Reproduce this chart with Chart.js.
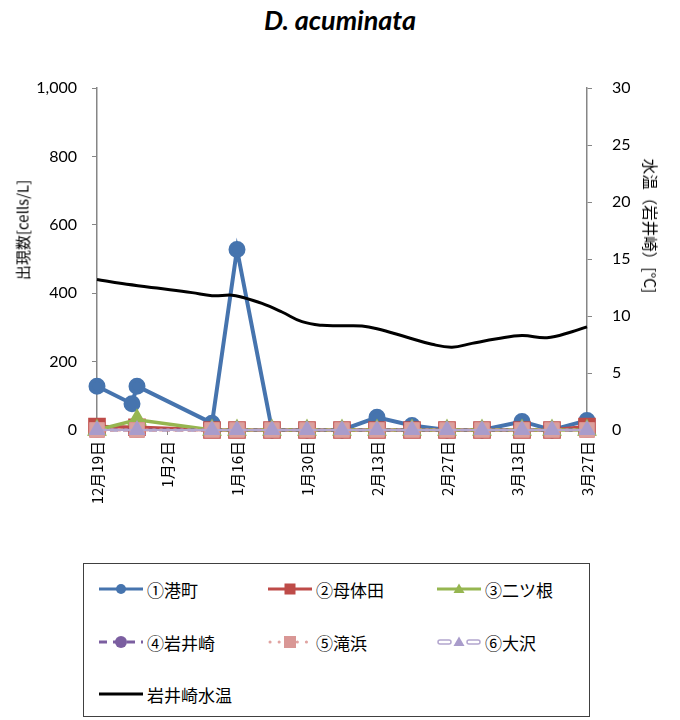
<!DOCTYPE html>
<html>
<head>
<meta charset="utf-8">
<script src="https://cdn.jsdelivr.net/npm/chart.js@4.4.1/dist/chart.umd.min.js"></script>
<style>
  body { margin: 0; background: #fff; }
  #wrap { position: relative; width: 680px; height: 720px; font-family: Lato, "Noto Sans CJK JP", sans-serif; color: #000; }
  #chartBox { position: absolute; left: 0; top: 0; width: 680px; height: 560px; }
  .title { position: absolute; left: 0; top: 3px; width: 680px; text-align: center; font: italic bold 27px Lato, sans-serif; }
  .axisTitle { position: absolute; white-space: nowrap; font-size: 15px; font-family: "Noto Sans CJK JP", sans-serif; }
  #legend { position: absolute; left: 83px; top: 563px; width: 505px; height: 152px; border: 1px solid #404040; }
  .item { position: absolute; height: 24px; display: flex; align-items: center; font-size: 17px; font-family: "Noto Sans CJK JP", sans-serif; white-space: nowrap; }
  .item span { margin-left: 4px; }
</style>
</head>
<body>
<div id="wrap">
  <div class="title">D. acuminata</div>
  <div id="chartBox"><canvas id="doChart" width="680" height="560"></canvas></div>
  <div class="axisTitle" style="left:22px;top:230px;transform:translate(-50%,-50%) rotate(-90deg);">出現数[cells/L]</div>
  <div class="axisTitle" style="left:651px;top:226px;font-size:15.5px;transform:translate(-50%,-50%) rotate(90deg);">水温（岩井崎）[°C]</div>
  <div id="legend"></div>
</div>
<script>
// x is days since 12/19
const tickLabels = ["12月19日", "1月2日", "1月16日", "1月30日", "2月13日", "2月27日", "3月13日", "3月27日"];

const minatoDays = [0, 7, 8, 23, 28, 35, 42, 49, 56, 63, 70, 77, 85, 91, 98];
const minato = [128, 77, 128, 20, 528, 0, 0, 0, 37, 13, 0, 0, 25, 0, 28];

const stationDays = [0, 8, 23, 28, 35, 42, 49, 56, 63, 70, 77, 85, 91, 98];
const botaida = [10, 8, 0, 0, 0, 0, 0, 0, 0, 0, 0, 0, 0, 10];
const futatsune = [0, 30, 0, 0, 0, 0, 0, 0, 0, 0, 0, 0, 0, 0];
const iwaisaki = [0, 0, 0, 0, 0, 0, 0, 0, 0, 0, 0, 0, 0, 0];
const takihama = [0, 0, 0, 0, 0, 0, 0, 0, 0, 0, 0, 0, 0, 0];
const osawa = [0, 0, 0, 0, 0, 0, 0, 0, 0, 0, 0, 0, 0, 0];

const tempDays = [0, 5, 12, 19, 23, 27, 29, 33, 37, 41, 45, 49, 53, 56, 62, 67, 71, 75, 80, 85, 90, 95, 98];
const tempValues = [13.2, 12.85, 12.45, 12.05, 11.78, 11.83, 11.65, 11.1, 10.35, 9.5, 9.18, 9.14, 9.12, 8.88, 8.14, 7.52, 7.26, 7.6, 8.0, 8.29, 8.09, 8.62, 9.05];

const toPoints = (days, vals) => days.map((d, i) => ({ x: d, y: vals[i] }));

const axisGray = "#868686";
const fontFam = "Lato, 'Noto Sans CJK JP', sans-serif";

new Chart(document.getElementById("doChart"), {
  type: "line",
  data: {
    datasets: [
      {
        label: "岩井崎水温", data: toPoints(tempDays, tempValues), yAxisID: "y2",
        borderColor: "#000", borderWidth: 3, pointRadius: 0, tension: 0.4, order: 0,
      },
      {
        label: "⑥大沢", data: toPoints(stationDays, osawa),
        borderColor: "#B3A6CE", borderWidth: 2, pointStyle: "triangle", pointRadius: 8,
        pointBackgroundColor: "#A99CCB", pointBorderColor: "#A99CCB", order: 1,
      },
      {
        label: "⑤滝浜", data: toPoints(stationDays, takihama),
        borderColor: "#DE9E9C", borderWidth: 3, borderDash: [2, 5], borderCapStyle: "round",
        pointStyle: "rect", pointRadius: 10.5, pointBackgroundColor: "#D9A19F", pointBorderColor: "#DC9391",
        pointBorderWidth: 1, order: 2,
      },
      {
        label: "④岩井崎", data: toPoints(stationDays, iwaisaki),
        borderColor: "#7B5EA0", borderWidth: 3, borderDash: [8, 5],
        pointStyle: "circle", pointRadius: 6, pointBackgroundColor: "#7B5EA0", pointBorderColor: "#7B5EA0", order: 3,
      },
      {
        label: "③二ツ根", data: toPoints(stationDays, futatsune),
        borderColor: "#96B650", borderWidth: 3.5,
        pointStyle: "triangle", pointRadius: 8, pointBackgroundColor: "#96B650", pointBorderColor: "#96B650", order: 4,
      },
      {
        label: "②母体田", data: toPoints(stationDays, botaida),
        borderColor: "#BE4B48", borderWidth: 3.5,
        pointStyle: "rect", pointRadius: 10, pointBackgroundColor: "#BE4B48", pointBorderColor: "#BE4B48", order: 5,
      },
      {
        label: "①港町", data: toPoints(minatoDays, minato),
        borderColor: "#4674AE", borderWidth: 4,
        pointStyle: "circle", pointRadius: 6.5, pointBackgroundColor: "#4674AE", pointBorderColor: "#4674AE", order: 6,
      },
    ],
  },
  options: {
    responsive: false,
    maintainAspectRatio: false,
    animation: false,
    layout: { padding: { top: 88, left: 0, right: 0, bottom: 0 } },
    elements: { line: { fill: false }, point: { hoverRadius: 6 } },
    datasets: { line: { clip: false } },
    plugins: { legend: { display: false }, tooltip: { enabled: false } },
    scales: {
      x: {
        type: "linear", min: 0, max: 98,
        afterFit: (s) => { s.height = 130; },
        grid: { drawOnChartArea: false, color: axisGray, tickLength: 5 },
        border: { color: axisGray, width: 1.5 },
        ticks: {
          stepSize: 14, autoSkip: false, maxRotation: 90, minRotation: 90, padding: 6,
          color: "#000", font: { size: 15, family: "'Noto Sans CJK JP', sans-serif" },
          callback: (v, i) => tickLabels[i],
        },
      },
      y: {
        position: "left", min: 0, max: 1000,
        afterFit: (s) => { s.width = 97; },
        grid: { drawOnChartArea: false, color: axisGray, tickLength: 5 },
        border: { color: axisGray, width: 1.5 },
        ticks: { stepSize: 200, padding: 15, color: "#000", font: { size: 16, family: fontFam } },
      },
      y2: {
        position: "right", min: 0, max: 30,
        afterFit: (s) => { s.width = 93; },
        grid: { drawOnChartArea: false, color: axisGray, tickLength: 5 },
        border: { color: axisGray, width: 1.5 },
        ticks: { stepSize: 5, padding: 20, color: "#000", font: { size: 16, family: fontFam } },
      },
    },
  },
});

// legend
const legendItems = [
  { text: "①港町", col: 0, row: 0, svg: '<line x1="0" y1="8" x2="44" y2="8" stroke="#4674AE" stroke-width="3"/><circle cx="22" cy="8" r="5" fill="#4674AE"/>' },
  { text: "②母体田", col: 1, row: 0, svg: '<line x1="0" y1="8" x2="44" y2="8" stroke="#BE4B48" stroke-width="3"/><rect x="16.5" y="2.5" width="11" height="11" fill="#BE4B48"/>' },
  { text: "③二ツ根", col: 2, row: 0, svg: '<line x1="0" y1="8" x2="44" y2="8" stroke="#96B650" stroke-width="3"/><polygon points="22,2.5 27.5,12 16.5,12" fill="#96B650"/>' },
  { text: "④岩井崎", col: 0, row: 1, svg: '<line x1="0" y1="8" x2="44" y2="8" stroke="#7B5EA0" stroke-width="3" stroke-dasharray="8,6"/><circle cx="22" cy="8" r="6" fill="#7B5EA0"/>' },
  { text: "⑤滝浜", col: 1, row: 1, svg: '<line x1="2" y1="8" x2="44" y2="8" stroke="#E0A3A1" stroke-width="3" stroke-linecap="round" stroke-dasharray="0.1,9"/><rect x="16" y="2" width="12" height="12" fill="#D99795"/>' },
  { text: "⑥大沢", col: 2, row: 1, svg: '<rect x="1" y="6" width="13" height="4" rx="2" fill="#fff" stroke="#B3A6CE" stroke-width="1.5"/><rect x="30" y="6" width="13" height="4" rx="2" fill="#fff" stroke="#B3A6CE" stroke-width="1.5"/><polygon points="22,2.5 27.5,12 16.5,12" fill="#A99CCB"/>' },
  { text: "岩井崎水温", col: 0, row: 2, svg: '<line x1="0" y1="8" x2="44" y2="8" stroke="#000" stroke-width="3"/>' },
];
const colX = [15, 184, 353];
const rowY = [25, 78, 130];
const legend = document.getElementById("legend");
legendItems.forEach((it) => {
  const d = document.createElement("div");
  d.className = "item";
  d.style.left = colX[it.col] + "px";
  d.style.top = (rowY[it.row] - 12) + "px";
  d.innerHTML = '<svg width="44" height="16">' + it.svg + "</svg><span>" + it.text + "</span>";
  legend.appendChild(d);
});
</script>
</body>
</html>
